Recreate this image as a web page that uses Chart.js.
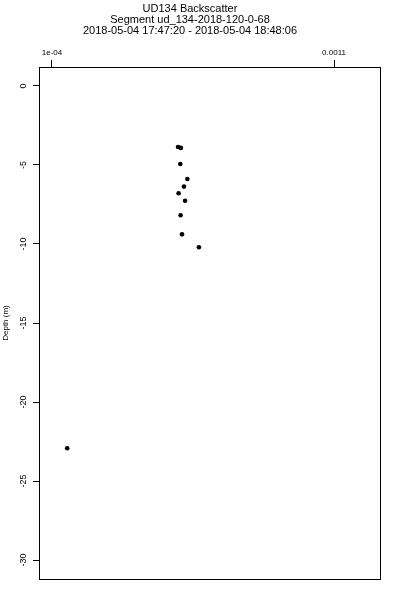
<!DOCTYPE html>
<html>
<head>
<meta charset="utf-8">
<script src="https://cdn.jsdelivr.net/npm/chart.js@4"></script>
<style>
  html, body { margin: 0; padding: 0; background: #fff; }
  #wrap { width: 400px; height: 600px; }
</style>
</head>
<body>
<div id="wrap"><canvas id="chart" width="400" height="600"></canvas></div>
<script>
// Backscatter values (x) against depth in metres (y)
const backscatter = [5.47e-4, 5.57e-4, 5.55e-4, 5.80e-4, 5.68e-4, 5.49e-4, 5.72e-4, 5.56e-4, 5.61e-4, 6.21e-4, 1.54e-4];
const depth = [-3.86, -3.92, -4.94, -5.89, -6.37, -6.79, -7.26, -8.18, -9.39, -10.21, -22.93];

const xTickValues = [1e-4, 0.0011];
const xTickLabels = ['1e-04', '0.0011'];
const yTickValues = [0, -5, -10, -15, -20, -25, -30];

const titleLines = [
  'UD134 Backscatter',
  'Segment ud_134-2018-120-0-68',
  '2018-05-04 17:47:20 - 2018-05-04 18:48:06'
];

const FONT = '"Liberation Sans", Helvetica, Arial, sans-serif';

// draws the plot box and the rotated depth tick labels (R style)
const boxPlugin = {
  id: 'box',
  afterDraw(chart) {
    const { ctx, chartArea: a } = chart;
    const y = chart.scales.y;
    ctx.save();
    ctx.strokeStyle = '#000';
    ctx.lineWidth = 1;
    ctx.strokeRect(a.left + 0.5, a.top + 0.5, a.right - a.left, a.bottom - a.top);
    ctx.fillStyle = '#000';
    ctx.font = '9px ' + FONT;
    ctx.textAlign = 'center';
    ctx.textBaseline = 'middle';
    yTickValues.forEach(v => {
      const py = y.getPixelForValue(v);
      ctx.save();
      ctx.translate(24, py);
      ctx.rotate(-Math.PI / 2);
      ctx.fillText(String(v), 0, 0);
      ctx.restore();
    });
    ctx.restore();
  }
};

new Chart(document.getElementById('chart'), {
  type: 'scatter',
  data: {
    datasets: [{
      data: backscatter.map((x, i) => ({ x: x, y: depth[i] })),
      pointRadius: 2.3,
      pointHoverRadius: 2.3,
      pointBackgroundColor: '#000',
      pointBorderColor: '#000',
      pointBorderWidth: 0
    }]
  },
  options: {
    responsive: false,
    animation: false,
    events: [],
    layout: { padding: { left: 0, right: 20, top: 0, bottom: 21 } },
    plugins: {
      legend: { display: false },
      tooltip: { enabled: false },
      title: {
        display: true,
        text: titleLines,
        color: '#000',
        font: { family: FONT, size: 11, weight: 'normal', lineHeight: 1.0 },
        padding: { top: 3, bottom: 4 }
      }
    },
    scales: {
      x: {
        type: 'linear',
        position: 'top',
        min: 5.4e-5,
        max: 0.001263,
        afterBuildTicks: (s) => { s.ticks = xTickValues.map(v => ({ value: v })); },
        afterFit: (s) => { s.height = 27; },
        ticks: {
          color: '#000',
          padding: 2,
          maxRotation: 0,
          autoSkip: false,
          font: { family: FONT, size: 8 },
          callback: (v, i) => xTickLabels[i]
        },
        grid: { drawOnChartArea: false, color: '#000', tickLength: 7, tickColor: '#000' },
        border: { display: false }
      },
      y: {
        type: 'linear',
        min: -31.2,
        max: 1.2,
        afterBuildTicks: (s) => { s.ticks = yTickValues.map(v => ({ value: v })); },
        afterFit: (s) => { s.width = 39; },
        ticks: { display: false },
        grid: { drawOnChartArea: false, color: '#000', tickLength: 6, tickColor: '#000' },
        border: { display: false },
        title: {
          display: true,
          text: 'Depth (m)',
          color: '#000',
          font: { family: FONT, size: 8 },
          padding: { top: 1, bottom: 0 }
        }
      }
    }
  },
  plugins: [boxPlugin]
});
</script>
</body>
</html>
